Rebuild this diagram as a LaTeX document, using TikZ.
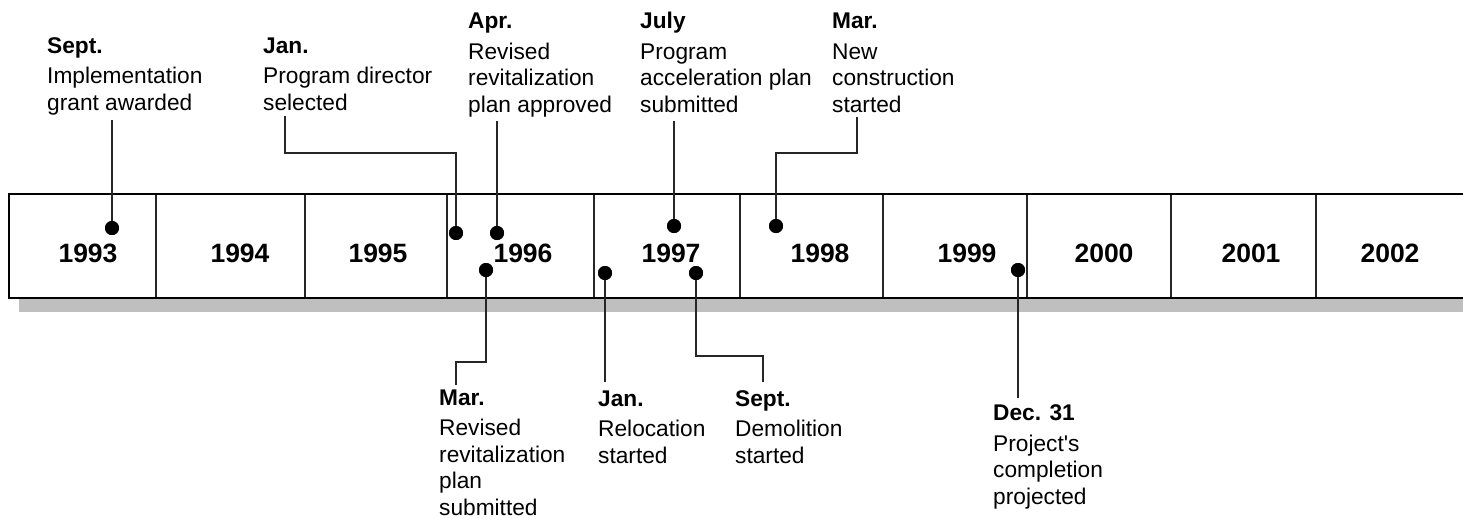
\documentclass[tikz,border=0pt]{standalone}
\usepackage{fontspec}
\setmainfont{Liberation Sans}
% a family without TeX ligatures, for a straight apostrophe
\newfontfamily\straightq{Liberation Sans}
\begin{document}
\begin{tikzpicture}[x=1pt,y=-1pt,
  yearlbl/.style={font=\fontsize{26.5}{30}\selectfont\bfseries, inner sep=0, anchor=base},
  evt/.style={anchor=base west, align=left, inner sep=0, font=\fontsize{22.7}{26.5}\selectfont},
  lead/.style={line width=1.3pt, draw=black!85},
  dot/.style={circle, fill=black, minimum size=14pt, inner sep=0},
  divider/.style={line width=1.2pt, draw=black!85}]
\useasboundingbox (0,0) rectangle (1463,517);
\clip (0,0) rectangle (1463,517);

% shadow and bar
\fill[black!25] (19,298) rectangle (1480,312);
\draw[line width=2pt, fill=white] (9,194) rectangle (1480,298);
\foreach \x in {156,305,447,594,740,883,1027,1171,1316}
  \draw[divider] (\x,195) -- (\x,297);

% year labels
\node[yearlbl] (y93) at (88,262) {1993};
\node[yearlbl] (y94) at (240,262) {1994};
\node[yearlbl] (y95) at (378,262) {1995};
\node[yearlbl] (y96) at (523,262) {1996};
\node[yearlbl] (y97) at (671,262) {1997};
\node[yearlbl] (y98) at (820,262) {1998};
\node[yearlbl] (y99) at (967,262) {1999};
\node[yearlbl] (y00) at (1104,262) {2000};
\node[yearlbl] (y01) at (1251,262) {2001};
\node[yearlbl] (y02) at (1390,262) {2002};

% event labels above the bar (placed by the baseline of their last line)
\node[evt] (l1) at (47,110) {\textbf{Sept.}\\[4pt]Implementation\\grant awarded};
\node[evt] (l2) at (263,110) {\textbf{Jan.}\\[4pt]Program director\\selected};
\node[evt] (l3) at (468,112) {\textbf{Apr.}\\[4pt]Revised\\revitalization\\plan approved};
\node[evt] (l4) at (640,112) {\textbf{July}\\[4pt]Program\\acceleration plan\\submitted};
\node[evt] (l5) at (832,112) {\textbf{Mar.}\\[4pt]New\\construction\\started};

% event labels below the bar
\node[evt] (l6) at (439,515) {\textbf{Mar.}\\[4pt]Revised\\revitalization\\plan\\submitted};
\node[evt] (l7) at (598,463) {\textbf{Jan.}\\[4pt]Relocation\\started};
\node[evt] (l8) at (735,463) {\textbf{Sept.}\\[4pt]Demolition\\started};
\node[evt] (l9) at (993,504) {\textbf{Dec. 31}\\[4pt]Project{\straightq'}s\\completion\\projected};

% event markers
\node[dot] (d1) at (112,228) {};
\node[dot] (d2) at (456,233) {};
\node[dot] (d3) at (497,233) {};
\node[dot] (d4) at (674,226) {};
\node[dot] (d5) at (776,226) {};
\node[dot] (d6) at (486,270) {};
\node[dot] (d7) at (605,273) {};
\node[dot] (d8) at (696,273) {};
\node[dot] (d9) at (1018,270) {};

% leader line ends
\coordinate (e1) at (112,120);
\coordinate (e2) at (285,116);
\coordinate (e3) at (497,121);
\coordinate (e4) at (674,121);
\coordinate (e5) at (857,117);
\coordinate (e6) at (456,385);
\coordinate (e7) at (605,382);
\coordinate (e8) at (763,382);
\coordinate (e9) at (1018,398);

% leaders
\draw[lead] (d1.center) -- (e1);
\draw[lead] (d2.center) -- (456,153) -| (e2);
\draw[lead] (d3.center) -- (e3);
\draw[lead] (d4.center) -- (e4);
\draw[lead] (d5.center) -- (776,153) -| (e5);
\draw[lead] (d6.center) -- (486,362) -| (e6);
\draw[lead] (d7.center) -- (e7);
\draw[lead] (d8.center) -- (696,356) -| (e8);
\draw[lead] (d9.center) -- (e9);

% markers on top of the leaders
\foreach \d in {d1,d2,d3,d4,d5,d6,d7,d8,d9}
  \fill (\d) circle (7pt);
\end{tikzpicture}
\end{document}
